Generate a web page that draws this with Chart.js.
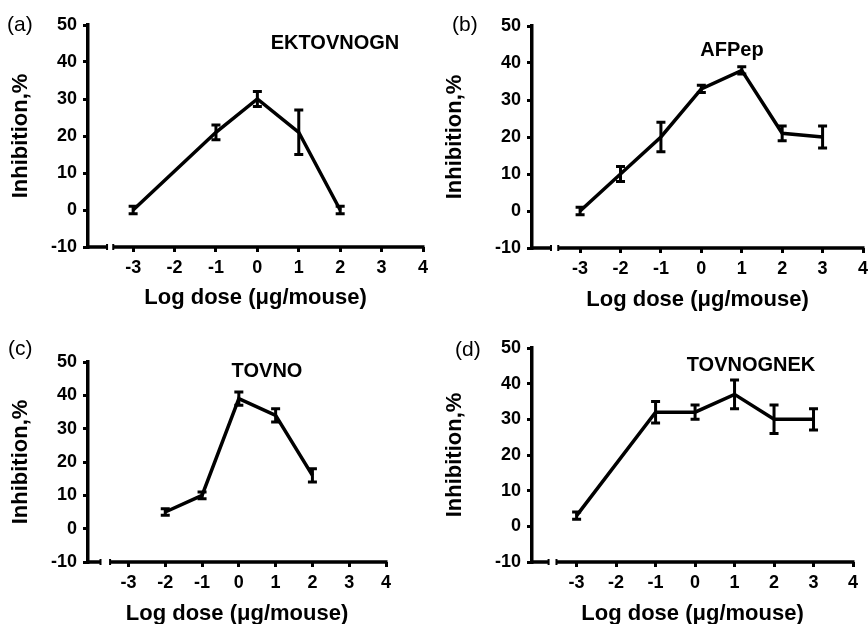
<!DOCTYPE html>
<html>
<head>
<meta charset="utf-8">
<script src="https://cdn.jsdelivr.net/npm/chart.js@4/dist/chart.umd.min.js"></script>
<style>
body { margin: 0; background: #fff; overflow: hidden; width: 868px; height: 624px; position: relative; }
canvas { position: absolute; }
</style>
</head>
<body>
<canvas id="cA" width="434" height="320" style="left:0;top:0"></canvas>
<canvas id="cB" width="440" height="320" style="left:434px;top:0"></canvas>
<canvas id="cC" width="434" height="320" style="left:0;top:312px"></canvas>
<canvas id="cD" width="440" height="320" style="left:434px;top:312px"></canvas>
<script>
// === DATA ===
const xTickVals = [-3, -2, -1, 0, 1, 2, 3, 4];

const doseA = [-3, -1, 0, 1, 2];
const inhibA = [0, 21, 30, 21, 0];
const errA = [1, 2, 2, 6, 1];

const doseB = [-3, -2, -1, 0, 1, 2, 3];
const inhibB = [0, 10, 20, 33, 38, 21, 20];
const errB = [1, 2, 4, 1, 1, 2, 3];

const doseC = [-2, -1, 0, 1, 2];
const inhibC = [5, 10, 39, 34, 16];
const errC = [1, 1, 2, 2, 2];

const doseD = [-3, -1, 0, 1, 2, 3];
const inhibD = [3, 32, 32, 37, 30, 30];
const errD = [1, 3, 2, 4, 4, 3];

const FONT = "'Liberation Sans', Arial, Helvetica, sans-serif";

// === PANELS (layout only) ===
const panels = [
    { canvas: 'cA', area: [88, 25, 423, 247], xmin: -4.09, brk: [-3.63, -3.48], letter: '(a)', letterPos: [7, 25],
      name: 'EKTOVNOGN', namePos: [335, 43], xTitlePad: 9, dose: doseA, inhib: inhibA, err: errA },
    { canvas: 'cB', area: [98, 26, 429, 248], xmin: -4.19, brk: [-3.72, -3.54], letter: '(b)', letterPos: [18, 25],
      name: 'AFPep', namePos: [298, 50], xTitlePad: 7, dose: doseB, inhib: inhibB, err: errB },
    { canvas: 'cC', area: [88, 50, 386, 250], xmin: -4.1, brk: [-3.76, -3.5], letter: '(c)', letterPos: [8, 37],
      name: 'TOVNO', namePos: [267, 59], xTitlePad: 5, dose: doseC, inhib: inhibC, err: errC },
    { canvas: 'cD', area: [98, 36, 419, 250], xmin: -4.13, brk: [-3.71, -3.51], letter: '(d)', letterPos: [21, 38],
      name: 'TOVNOGNEK', namePos: [317, 53], xTitlePad: 5, dose: doseD, inhib: inhibD, err: errD }
];

// === ERROR BARS, BROKEN X AXIS, LABELS ===
const decoPlugin = {
    id: 'deco',
    afterDatasetsDraw(chart, args, opts) {
        const p = opts.panel;
        const { ctx, scales: { x, y } } = chart;
        ctx.save();
        ctx.strokeStyle = '#000';
        ctx.lineWidth = 3;
        ctx.lineCap = 'butt';
        p.dose.forEach((d, i) => {
            const px = x.getPixelForValue(d);
            const top = y.getPixelForValue(p.inhib[i] + p.err[i]);
            const bot = y.getPixelForValue(p.inhib[i] - p.err[i]);
            ctx.beginPath();
            ctx.moveTo(px, top); ctx.lineTo(px, bot);
            ctx.moveTo(px - 4.5, top); ctx.lineTo(px + 4.5, top);
            ctx.moveTo(px - 4.5, bot); ctx.lineTo(px + 4.5, bot);
            ctx.stroke();
        });
        ctx.restore();
    },
    afterDraw(chart, args, opts) {
        const p = opts.panel;
        const { ctx, chartArea, scales: { x } } = chart;
        const yb = chartArea.bottom;
        const b1 = x.getPixelForValue(p.brk[0]);
        const b2 = x.getPixelForValue(p.brk[1]);
        ctx.save();
        ctx.strokeStyle = '#000';
        ctx.lineWidth = 3.5;
        ctx.beginPath();
        ctx.moveTo(chartArea.left - 1.5, yb); ctx.lineTo(b1, yb);
        ctx.moveTo(b2, yb); ctx.lineTo(chartArea.right + 1.5, yb);
        ctx.stroke();
        ctx.lineWidth = 2;
        ctx.beginPath();
        ctx.moveTo(b1, yb - 3); ctx.lineTo(b1, yb + 3);
        ctx.moveTo(b2, yb - 3); ctx.lineTo(b2, yb + 3);
        ctx.stroke();

        ctx.fillStyle = '#000';
        ctx.textBaseline = 'middle';
        ctx.textAlign = 'left';
        ctx.font = '21px ' + FONT;
        ctx.fillText(p.letter, p.letterPos[0], p.letterPos[1]);
        ctx.textAlign = 'center';
        ctx.font = 'bold 20px ' + FONT;
        ctx.fillText(p.name, p.namePos[0], p.namePos[1]);
        ctx.restore();
    }
};

panels.forEach(p => {
    const cv = document.getElementById(p.canvas);
    const W = cv.width, H = cv.height;
    const [l, t, r, b] = p.area;

    new Chart(cv.getContext('2d'), {
        type: 'line',
        data: {
            datasets: [{
                data: p.dose.map((d, i) => ({ x: d, y: p.inhib[i] })),
                borderColor: '#000',
                borderWidth: 3.5,
                pointRadius: 0,
                tension: 0,
                fill: false
            }]
        },
        options: {
            responsive: false,
            animation: false,
            layout: { padding: { left: 0, top: t, right: W - r, bottom: 0 } },
            plugins: {
                legend: { display: false },
                tooltip: { enabled: false },
                deco: { panel: p }
            },
            scales: {
                x: {
                    type: 'linear',
                    min: p.xmin,
                    max: 4,
                    afterBuildTicks: s => { s.ticks = xTickVals.map(v => ({ value: v })); },
                    afterFit: s => { s.height = H - b; },
                    border: { display: false },
                    grid: { drawOnChartArea: false, drawTicks: true, tickLength: 5, color: '#000', lineWidth: 3 },
                    ticks: { color: '#000', padding: 5, maxRotation: 0, font: { family: FONT, size: 18, weight: 'bold' } },
                    title: {
                        display: true,
                        text: 'Log dose (\u03bcg/mouse)',
                        color: '#000',
                        padding: { top: 0, bottom: p.xTitlePad },
                        font: { family: FONT, size: 22, weight: 'bold' }
                    }
                },
                y: {
                    min: -10,
                    max: 50,
                    afterFit: s => { s.width = l; },
                    border: { display: true, color: '#000', width: 3.5 },
                    grid: { drawOnChartArea: false, drawTicks: true, tickLength: 5, color: '#000', lineWidth: 3 },
                    ticks: { stepSize: 10, color: '#000', padding: 6, font: { family: FONT, size: 18, weight: 'bold' } },
                    title: {
                        display: true,
                        text: 'Inhibition,%',
                        color: '#000',
                        padding: { top: 8, bottom: 0 },
                        font: { family: FONT, size: 22, weight: 'bold' }
                    }
                }
            }
        },
        plugins: [decoPlugin]
    });
});
</script>
</body>
</html>
